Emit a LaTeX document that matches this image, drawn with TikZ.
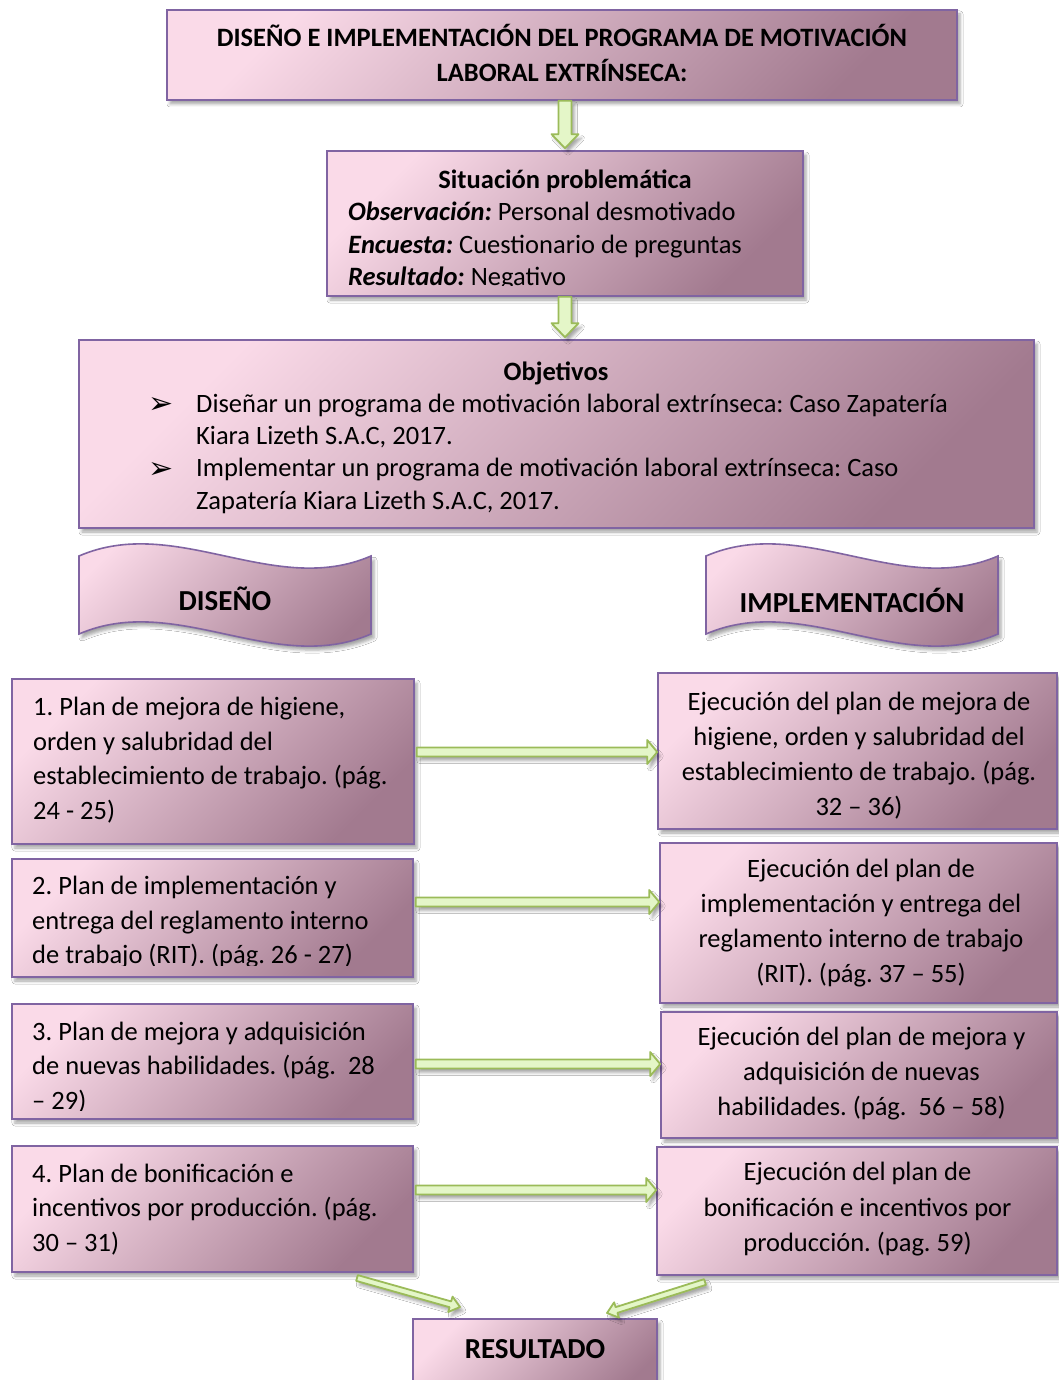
\documentclass[tikz,border=0pt]{standalone}
\usepackage{fontspec}
\setmainfont{Carlito}
\newfontfamily\dejavu{DejaVu Sans}
\usetikzlibrary{calc,shadows.blur}
\frenchspacing
\definecolor{pinkA}{HTML}{FADAE8}
\definecolor{mauveB}{HTML}{A27A8F}
\definecolor{boxline}{HTML}{8064A2}
\definecolor{arrowfill}{HTML}{E4F6C8}
\definecolor{arrowline}{HTML}{9BBB59}
\tikzset{
  shadowed/.style={blur shadow={shadow xshift=3pt, shadow yshift=-4pt, shadow blur radius=3pt, shadow opacity=35}},
  box/.style={draw=boxline, line width=1.6pt, top color=pinkA, bottom color=mauveB, shading angle=45, inner sep=0pt, shadowed},
  fatarrowstyle/.style={draw=arrowline, fill=arrowfill, line width=1.8pt, line join=round, shadowed},
  txt/.style={inner sep=0pt, font=\fontsize{26.5}{34.5}\selectfont},
  txtobj/.style={inner sep=0pt, font=\fontsize{26.5}{32.4}\selectfont},
  bigbold/.style={inner sep=0pt, font=\fontsize{29}{34}\selectfont\bfseries},
  bullet/.style={inner sep=0pt, font=\dejavu\fontsize{30}{34}\selectfont, anchor=base west}
}
\newcommand\fatarrow[5]{%
  \coordinate (fatH) at ($(#2)!#5!(#1)$);
  \draw[fatarrowstyle] ($(#1)!#3!90:(#2)$) -- ($(fatH)!#3!90:(#2)$) -- ($(fatH)!#4!90:(#2)$) -- (#2) -- ($(fatH)!#4!-90:(#2)$) -- ($(fatH)!#3!-90:(#2)$) -- ($(#1)!#3!-90:(#2)$) -- cycle;}
\begin{document}
\begin{tikzpicture}[x=1pt,y=-1pt]
\clip (0,0) rectangle (1059,1380);
\fill[white] (0,0) rectangle (1059,1380);

% ---- boxes
\node[box, minimum width=790pt, minimum height=90pt] (title) at (562,55) {};
\node[box, minimum width=476pt, minimum height=145pt] (sit) at (565,223.5) {};
\node[box, minimum width=955pt, minimum height=188pt] (obj) at (556.5,434) {};

\node[box, minimum width=402pt, minimum height=165pt] (L1) at (213,761.5) {};
\node[box, minimum width=401pt, minimum height=118pt] (L2) at (212.5,918) {};
\node[box, minimum width=401pt, minimum height=115pt] (L3) at (212.5,1061.5) {};
\node[box, minimum width=401pt, minimum height=126pt] (L4) at (212.5,1209) {};

\node[box, minimum width=399pt, minimum height=156pt] (R1) at (857.5,751) {};
\node[box, minimum width=397pt, minimum height=160pt] (R2) at (858.5,923) {};
\node[box, minimum width=396pt, minimum height=126pt] (R3) at (859,1075) {};
\node[box, minimum width=400pt, minimum height=128pt] (R4) at (857,1211) {};

\node[box, minimum width=244pt, minimum height=84pt] (res) at (535,1361) {};

% ---- wave banners
\path[box] (79,556) .. controls (176,514) and (274,598) .. (371,556) -- (371,634) .. controls (274,676) and (176,592) .. (79,634) -- cycle;
\path[box] (706,556) .. controls (803,514) and (901,598) .. (998,556) -- (998,634) .. controls (901,676) and (803,592) .. (706,634) -- cycle;
\node[bigbold] (dis) at (225,599) {DISEÑO};
\node[bigbold] (imp) at (852,600) {IMPLEMENTACIÓN};

% ---- texts
\node[txt, font=\fontsize{26.5}{35}\selectfont\bfseries, align=center] (titleT) at (562,53) {DISEÑO E IMPLEMENTACIÓN DEL PROGRAMA DE MOTIVACIÓN\\LABORAL EXTRÍNSECA:};

\begin{scope}
\clip ([yshift=11pt]sit.south west) rectangle (sit.north east);
\node[txt, font=\fontsize{26.5}{32.5}\selectfont\bfseries, anchor=base] (sitT) at (565,189) {Situación problemática};
\node[txt, font=\fontsize{26.5}{32.5}\selectfont, anchor=west, align=left] (sitB) at (348,246) {\textbf{\textit{Observación:}} Personal desmotivado\\\textbf{\textit{Encuesta:}} Cuestionario de preguntas\\\textbf{\textit{Resultado:}} Negativo};
\end{scope}

\node[txtobj, font=\fontsize{26.5}{32.4}\selectfont\bfseries, anchor=base] (objT) at (556,380) {Objetivos};
\node[bullet] (bu1) at (148,413) {➢};
\node[bullet] (bu2) at (148,478) {➢};
\node[txtobj, anchor=west, align=left] (ob1) at (196,421) {Diseñar un programa de motivación laboral extrínseca: Caso Zapatería\\Kiara Lizeth S.A.C, 2017.};
\node[txtobj, anchor=west, align=left] (ob2) at (196,486) {Implementar un programa de motivación laboral extrínseca: Caso\\Zapatería Kiara Lizeth S.A.C, 2017.};

\node[txt, anchor=west, align=left] (L1T) at (33,760) {1. Plan de mejora de higiene,\\orden y salubridad del\\establecimiento de trabajo. (pág.\\24 - 25)};
\begin{scope}
\clip ([yshift=12pt]L2.south west) rectangle (L2.north east);
\node[txt, anchor=west, align=left] (L2T) at (32,922.5) {2. Plan de implementación y\\entrega del reglamento interno\\de trabajo (RIT). (pág. 26 - 27)};
\end{scope}
\begin{scope}
\clip ([yshift=9pt]L3.south west) rectangle (L3.north east);
\node[txt, anchor=west, align=left] (L3T) at (32,1067.5) {3. Plan de mejora y adquisición\\de nuevas habilidades. (pág.~~28\\– 29)};
\end{scope}
\node[txt, anchor=west, align=left] (L4T) at (32,1209.5) {4. Plan de bonificación e\\incentivos por producción. (pág.\\30 – 31)};

\node[txt, font=\fontsize{26.5}{35}\selectfont, align=center] (R1T) at (859,755.5) {Ejecución del plan de mejora de\\higiene, orden y salubridad del\\establecimiento de trabajo. (pág.\\32 – 36)};
\node[txt, font=\fontsize{26.5}{35}\selectfont, align=center] (R2T) at (861,923.5) {Ejecución del plan de\\implementación y entrega del\\reglamento interno de trabajo\\(RIT). (pág. 37 – 55)};
\node[txt, font=\fontsize{26.5}{35}\selectfont, align=center] (R3T) at (861.5,1074) {Ejecución del plan de mejora y\\adquisición de nuevas\\habilidades. (pág.~~56 – 58)};
\node[txt, font=\fontsize{26.5}{35.5}\selectfont, align=center] (R4T) at (857.5,1209.5) {Ejecución del plan de\\bonificación e incentivos por\\producción. (pag. 59)};

\node[bigbold] (resT) at (535,1349) {RESULTADO};

% ---- arrows
\coordinate (a1s) at (sit.north |- title.south);
\coordinate (a1e) at ([yshift=2pt]sit.north);
\fatarrow{a1s}{a1e}{6.5pt}{13.5pt}{14pt}
\coordinate (a2s) at (sit.south);
\coordinate (a2e) at ([yshift=2pt]sit.south |- obj.north);
\fatarrow{a2s}{a2e}{6.5pt}{13.5pt}{14pt}

\coordinate (h1) at (0,752);
\coordinate (h2) at (0,902);
\coordinate (h3) at (0,1064);
\coordinate (h4) at (0,1190);
\coordinate (h1s) at ([xshift=2pt]L1.east |- h1);
\coordinate (h1e) at (R1.west |- h1);
\coordinate (h2s) at ([xshift=2pt]L2.east |- h2);
\coordinate (h2e) at (R2.west |- h2);
\coordinate (h3s) at ([xshift=2pt]L3.east |- h3);
\coordinate (h3e) at (R3.west |- h3);
\coordinate (h4s) at ([xshift=2pt]L4.east |- h4);
\coordinate (h4e) at (R4.west |- h4);
\fatarrow{h1s}{h1e}{4.5pt}{12pt}{10pt}
\fatarrow{h2s}{h2e}{4.5pt}{12pt}{10pt}
\fatarrow{h3s}{h3e}{4.5pt}{12pt}{10pt}
\fatarrow{h4s}{h4e}{4.5pt}{12pt}{10pt}

\coordinate (d1s) at (357,1278);
\coordinate (d1e) at (460,1307);
\coordinate (d2s) at (705,1282);
\coordinate (d2e) at (607,1313);
\fatarrow{d1s}{d1e}{3pt}{8pt}{10pt}
\fatarrow{d2s}{d2e}{3pt}{8pt}{10pt}
\end{tikzpicture}
\end{document}
